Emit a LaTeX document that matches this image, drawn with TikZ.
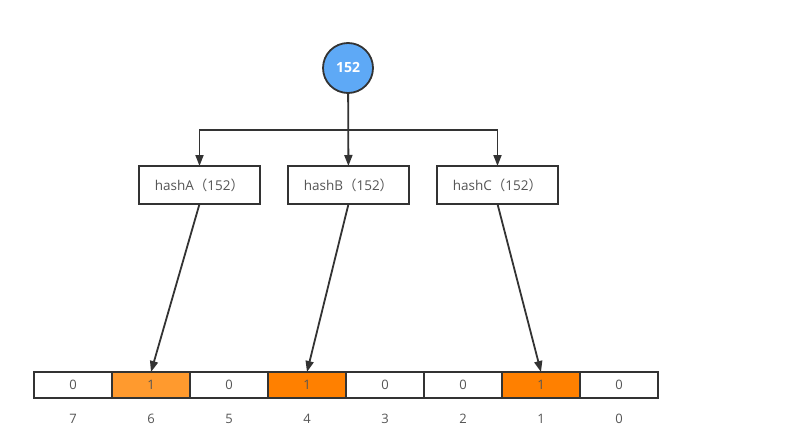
\documentclass[tikz,border=0pt]{standalone}
\usepackage{fontspec}
\setmainfont{Open Sans}
\newfontfamily\cjk{Noto Sans CJK SC}
\usetikzlibrary{arrows.meta}
\definecolor{bitink}{HTML}{333333}
\definecolor{bittext}{HTML}{555555}
\definecolor{rootblue}{HTML}{5EA9F6}
\definecolor{bitlight}{HTML}{FF9A2E}
\definecolor{bitorange}{HTML}{FF8000}
\newcommand{\hashcall}[1]{hash#1{\cjk（}152{\cjk）}}
\tikzset{
  root vertex/.style={
    circle, draw=bitink, fill=rootblue, line width=1.8pt,
    minimum size=50pt, inner sep=0pt, outer sep=0pt,
    text=white, font=\fontsize{14}{16}\selectfont\bfseries
  },
  hash box/.style={
    rectangle, draw=bitink, fill=white, line width=1.4pt,
    minimum width=121pt, minimum height=38pt, inner sep=0pt, outer sep=0pt,
    text=bittext, font=\fontsize{13.5}{16}\selectfont
  },
  bit cell/.style={
    rectangle, draw=bitink, fill=white, line width=1.4pt,
    minimum width=78pt, minimum height=26pt, inner sep=0pt, outer sep=0pt,
    text=bittext, font=\fontsize{13}{15}\selectfont
  },
  bit index/.style={
    text=bittext, inner sep=0pt, font=\fontsize{13}{15}\selectfont
  },
  hash edge/.style={
    draw=bitink, line width=1.8pt,
    -{Triangle[length=11pt,width=8pt]}
  }
}

\begin{document}
\begin{tikzpicture}[x=1pt,y=-1pt]
  \useasboundingbox (0,0) rectangle (792,433);

  % The value goes through the three hash functions.
  \node[root vertex] (root) at (348,68) {152};
  \node[hash box] (hashA) at (199.5,185) {\hashcall{A}};
  \node[hash box] (hashB) at (348.5,185) {\hashcall{B}};
  \node[hash box] (hashC) at (497.5,185) {\hashcall{C}};
  \coordinate (split) at (348.5,130);

  % Bit array, highest index on the left.
  \node[bit cell] (cell7) at (73,385) {0};
  \node[bit cell,fill=bitlight] (cell6) at (151,385) {1};
  \node[bit cell] (cell5) at (229,385) {0};
  \node[bit cell,fill=bitorange] (cell4) at (307,385) {1};
  \node[bit cell] (cell3) at (385,385) {0};
  \node[bit cell] (cell2) at (463,385) {0};
  \node[bit cell,fill=bitorange] (cell1) at (541,385) {1};
  \node[bit cell] (cell0) at (619,385) {0};

  \node[bit index] (idx7) at (73,419) {7};
  \node[bit index] (idx6) at (151,419) {6};
  \node[bit index] (idx5) at (229,419) {5};
  \node[bit index] (idx4) at (307,419) {4};
  \node[bit index] (idx3) at (385,419) {3};
  \node[bit index] (idx2) at (463,419) {2};
  \node[bit index] (idx1) at (541,419) {1};
  \node[bit index] (idx0) at (619,419) {0};

  % Fan-out from the value, then one arrow per hash into the array.
  \draw[hash edge] (root) -- (hashB);
  \draw[hash edge] (split) -| (hashA);
  \draw[hash edge] (split) -| (hashC);
  \draw[hash edge] (hashA.south) -- (cell6.north);
  \draw[hash edge] (hashB.south) -- (cell4.north);
  \draw[hash edge] (hashC.south) -- (cell1.north);
\end{tikzpicture}
\end{document}
